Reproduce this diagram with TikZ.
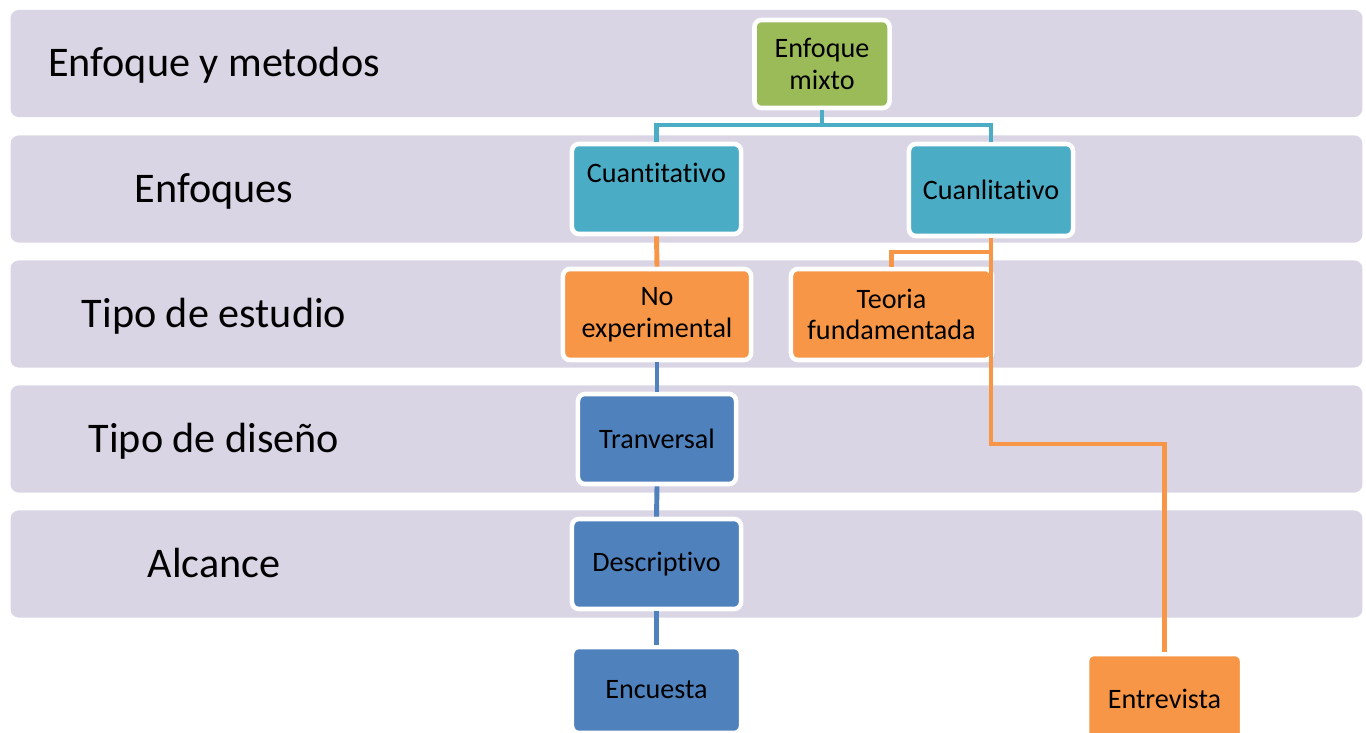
\documentclass[tikz,border=0pt]{standalone}
\usepackage{fontspec}
\setmainfont{Carlito}[Ligatures={NoCommon,NoRequired,NoContextual}]
\usepackage{tikz}
\definecolor{banda}{HTML}{D9D5E4}
\definecolor{verde}{HTML}{9BBB59}
\definecolor{azzurro}{HTML}{4BACC6}
\definecolor{arancio}{HTML}{F79646}
\definecolor{blu}{HTML}{4F81BD}
\begin{document}
\begin{tikzpicture}[x=0.01cm,y=0.01cm,
	fascia/.style={fill=banda, rounded corners=0.08cm, inner sep=0pt, minimum width=13.51cm, minimum height=1.07cm},
	titolo/.style={anchor=base, font=\fontsize{12}{14}\selectfont},
	box/.style={draw=white, line width=1.3pt, rounded corners=0.07cm, align=center, inner sep=0pt, minimum height=0.9cm, font=\fontsize{8}{9}\selectfont},
	link/.style={line width=1.4pt}]
		\useasboundingbox (0,0) rectangle (1366,733);
		%Fasce
		\node [fascia] (f1) at (686.5,669.5) {};
		\node [fascia] (f2) at (686.5,544) {};
		\node [fascia] (f3) at (686.5,419) {};
		\node [fascia] (f4) at (686.5,294) {};
		\node [fascia] (f5) at (686.5,169) {};
		\node [titolo] (t1) at (214,656) {Enfoque y metodos};
		\node [titolo] (t2) at (214,530.5) {Enfoques};
		\node [titolo] (t3) at (214,405.5) {Tipo de estudio};
		\node [titolo] (t4) at (214,280.5) {Tipo de diseño};
		\node [titolo] (t5) at (214,155.5) {Alcance};
		%Enfoque
		\node [box, fill=verde, minimum width=1.35cm, minimum height=0.88cm] (mixto) at (822,669) {Enfoque\\mixto};
		\node [box, fill=azzurro, minimum width=1.69cm, text depth=0.32cm] (cuanti) at (656.5,544) {Cuantitativo};
		\node [box, fill=azzurro, minimum width=1.64cm, minimum height=0.92cm] (cuanli) at (991,543) {Cuanlitativo};
		%Estudio
		\node [box, fill=arancio, minimum width=1.88cm, minimum height=0.91cm] (noexp) at (657,418.5) {No\\experimental};
		\node [box, fill=arancio, minimum width=2.01cm, minimum height=0.91cm] (teoria) at (891.5,418.5) {Teoria\\fundamentada};
		%Diseno e alcance
		\node [box, fill=blu, minimum width=1.58cm] (tranv) at (657,294) {Tranversal};
		\node [box, fill=blu, minimum width=1.69cm] (descr) at (656.5,169) {Descriptivo};
		\node [box, fill=blu, minimum width=1.69cm, minimum height=0.86cm] (encuesta) at (656.5,43) {Encuesta};
		\node [box, fill=arancio, minimum width=1.55cm] (entrevista) at (1164.5,34) {Entrevista};
		%Collegamenti
		\coordinate (j1) at (822,608);
		\coordinate (j2) at (891.5,481);
		\coordinate (j3) at (1164.5,289);
		\draw [link, azzurro] (mixto.south) -- (j1);
		\draw [link, azzurro] (cuanti.north) |- (j1) -| (cuanli.north);
		\draw [link, arancio] (cuanti.south) -- (noexp.north);
		\draw [link, arancio] (cuanli.south) |- (j2) -- (teoria.north);
		\draw [link, arancio] (cuanli.south) |- (j3) -- (entrevista.north);
		\draw [link, blu] (noexp.south) -- (tranv.north);
		\draw [link, blu] (tranv.south) -- (descr.north);
		\draw [link, blu] (descr.south) -- (encuesta.north);
\end{tikzpicture}
\end{document}
